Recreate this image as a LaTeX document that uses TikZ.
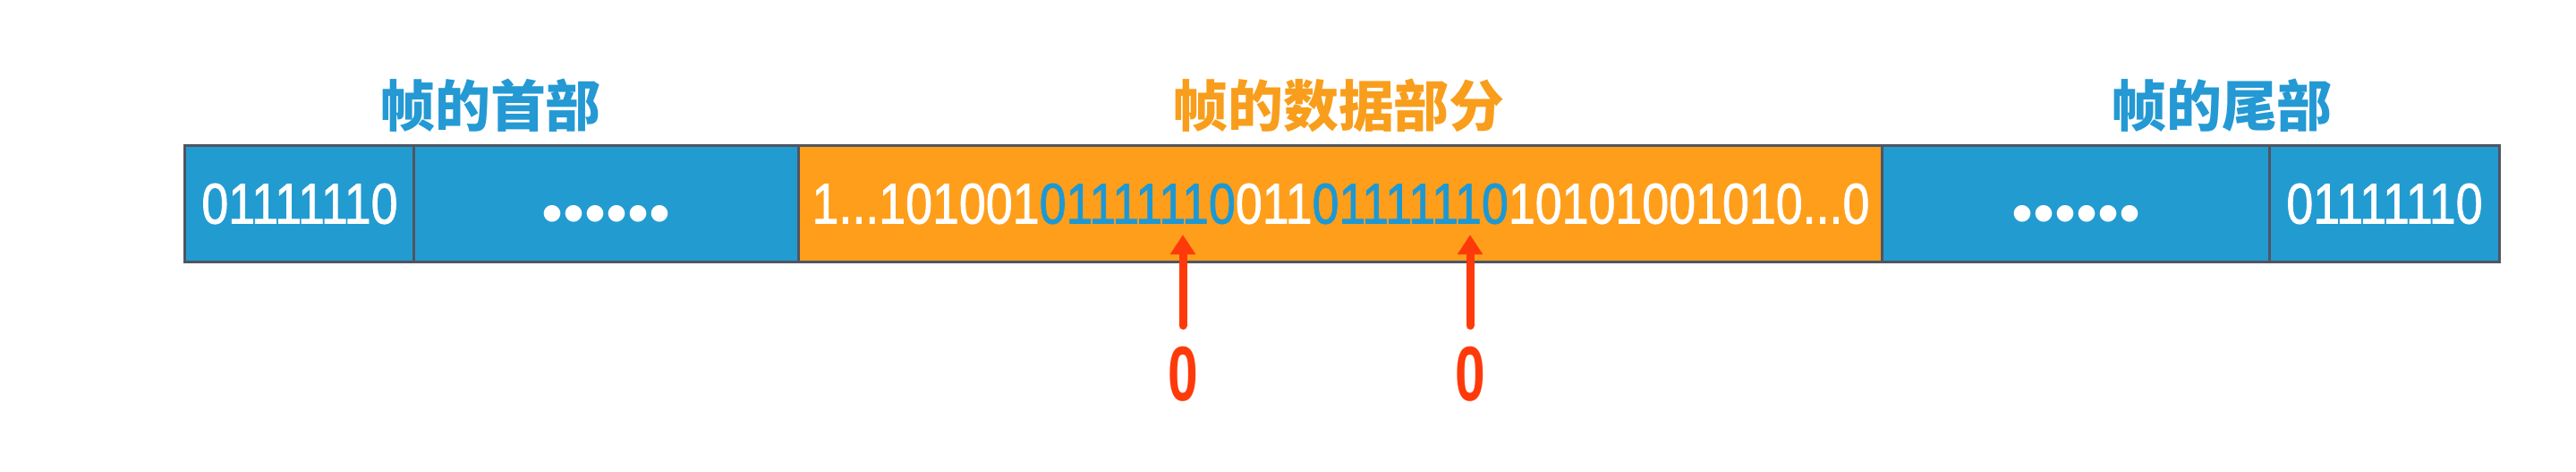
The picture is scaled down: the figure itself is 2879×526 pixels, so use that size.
\documentclass[tikz,border=0pt]{standalone}
\usepackage{fontspec}
\setmainfont{Liberation Sans}[FakeStretch=0.84,FakeBold=1.2]
\newfontfamily\cjk{Noto Sans CJK SC}
\newfontfamily\dotfont{Liberation Sans}
\newfontfamily\zerofont{Liberation Sans}[FakeStretch=0.7]
\usetikzlibrary{arrows.meta}

\definecolor{cellblue}{HTML}{229BD1}
\definecolor{cellorange}{HTML}{FF9E1A}
\definecolor{frame}{HTML}{4F5561}
\definecolor{bitblue}{HTML}{1C98D4}
\definecolor{titleblue}{HTML}{2499D3}
\definecolor{titleorange}{HTML}{F89E1C}
\definecolor{stuffred}{HTML}{FF3A0A}

\begin{document}
\begin{tikzpicture}[x=0.01cm,y=-0.01cm,
  cell/.style={draw=frame,line width=0.03cm,minimum height=1.29cm,inner sep=0,text=white,font=\fontsize{18.2}{20}\selectfont},
  dots/.style={font=\dotfont\fontsize{19.5}{22}\selectfont},
  title/.style={font=\cjk\bfseries\fontsize{17.6}{20}\selectfont},
  zero/.style={anchor=base,inner sep=0,outer sep=0.23cm,text=stuffred,font=\zerofont\bfseries\fontsize{24.6}{26}\selectfont},
  stuff/.style={stuffred,line width=0.09cm,line cap=round,-{Triangle[width=0.27cm,length=0.22cm]}}]
\useasboundingbox (0,0) rectangle (2879,526);

% titles
\node[title,text=titleblue] (headtitle) at (548,118) {帧的首部};
\node[title,text=titleorange] (datatitle) at (1496,118) {帧的数据部分};
\node[title,text=titleblue] (tailtitle) at (2483,118) {帧的尾部};

% the frame
\node[cell,fill=cellblue,minimum width=2.56cm] (head) at (335,227.5) {01111110};
\node[cell,fill=cellblue,minimum width=4.30cm,dots] (headdots) at (678,227.5) {\raisebox{-0.34cm}[0pt][0pt]{••••••}};
\node[cell,fill=cellorange,minimum width=12.11cm] (data) at (1498.5,227.5) {1...101001\textcolor{bitblue}{01111110}011\textcolor{bitblue}{01111110}10101001010...0};
\node[cell,fill=cellblue,minimum width=4.33cm,dots] (taildots) at (2320.5,227.5) {\raisebox{-0.34cm}[0pt][0pt]{••••••}};
\node[cell,fill=cellblue,minimum width=2.56cm] (tail) at (2665,227.5) {01111110};

% stuffed zeros
\coordinate (tipA) at (1322,262);
\coordinate (tipB) at (1643,262);
\node[zero] (zeroA) at (1322,447) {0};
\node[zero] (zeroB) at (1643,447) {0};
\draw[stuff] (zeroA) -- (tipA);
\draw[stuff] (zeroB) -- (tipB);
\end{tikzpicture}
\end{document}
